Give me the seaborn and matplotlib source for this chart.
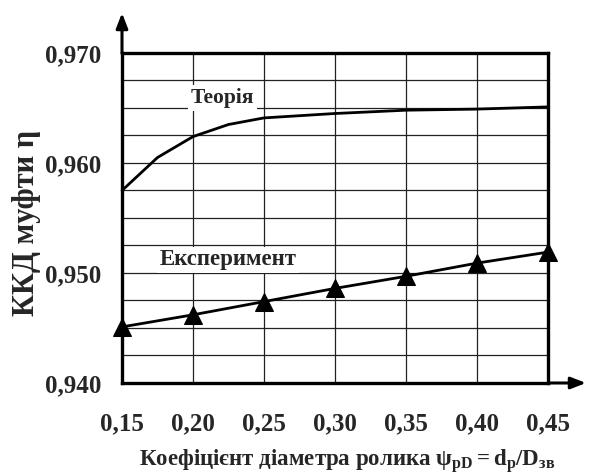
import matplotlib
matplotlib.use("Agg")
import matplotlib.pyplot as plt
import seaborn as sns
import pandas as pd
from matplotlib.ticker import MultipleLocator, FixedLocator

# Roller diameter coefficient and clutch efficiency
theory_x = [0.15, 0.175, 0.20, 0.225, 0.25, 0.30, 0.35, 0.40, 0.45]
theory_eta = [0.9575, 0.9605, 0.9624, 0.9635, 0.9641, 0.9645, 0.9648, 0.9649, 0.9651]

exp_x = [0.15, 0.20, 0.25, 0.30, 0.35, 0.40, 0.45]
exp_eta = [0.9451, 0.9462, 0.9474, 0.9486, 0.9497, 0.9509, 0.9519]

x_ticks = [0.15, 0.20, 0.25, 0.30, 0.35, 0.40, 0.45]
x_tick_labels = ["0,15", "0,20", "0,25", "0,30", "0,35", "0,40", "0,45"]
y_ticks = [0.940, 0.950, 0.960, 0.970]
y_tick_labels = ["0,940", "0,950", "0,960", "0,970"]

theory = pd.DataFrame({"x": theory_x, "eta": theory_eta})
experiment = pd.DataFrame({"x": exp_x, "eta": exp_eta})

sns.set_style("white")
plt.rcParams["font.family"] = ["Liberation Serif", "DejaVu Serif"]
plt.rcParams["font.weight"] = "bold"
plt.rcParams["mathtext.fontset"] = "custom"
plt.rcParams["mathtext.rm"] = "Liberation Serif:bold"
plt.rcParams["mathtext.it"] = "Liberation Serif:bold"
plt.rcParams["mathtext.bf"] = "Liberation Serif:bold"

fig = plt.figure(figsize=(5.89, 4.74), dpi=100)
ax = fig.add_axes([122 / 589, 1 - 383 / 474, 426 / 589, 330 / 474])

sns.lineplot(data=theory, x="x", y="eta", ax=ax, color="black", linewidth=2.0,
             zorder=4, clip_on=False)
sns.lineplot(data=experiment, x="x", y="eta", ax=ax, color="black", linewidth=2.0,
             marker="^", markersize=13, markeredgecolor="black", zorder=6,
             clip_on=False)

ax.set_xlim(0.15, 0.45)
ax.set_ylim(0.940, 0.970)
ax.xaxis.set_major_locator(FixedLocator(x_ticks))
ax.set_xticklabels(x_tick_labels)
ax.yaxis.set_major_locator(FixedLocator(y_ticks))
ax.set_yticklabels(y_tick_labels)
ax.yaxis.set_minor_locator(MultipleLocator(0.0025))

ax.grid(True, which="both", color="#222222", linewidth=0.9, zorder=1)
ax.set_axisbelow(True)
for s in ax.spines.values():
    s.set_linewidth(2.4)
    s.set_color("black")
    s.set_zorder(5)

ax.tick_params(axis="both", which="both", direction="out", color="#222222",
               width=0.9, labelsize=18)
ax.tick_params(axis="y", which="both", length=6, pad=9)
ax.tick_params(axis="x", which="major", length=5, pad=16)
for lab in ax.get_xticklabels() + ax.get_yticklabels():
    lab.set_fontweight("bold")

ax.set_xlabel(r"Коефіцієнт діаметра ролика $\mathregular{ψ_{pD}{=}d_{p}/D_{зв}}$",
              fontsize=16.5, fontweight="bold")
ax.xaxis.set_label_coords(0.528, -0.196)
ax.set_ylabel("ККД муфти η", fontsize=22, fontweight="bold")
ax.yaxis.set_label_coords(-0.19, 0.485)

# Curve captions on a white patch over the grid
box = dict(facecolor="white", edgecolor="none", pad=2)
ax.text(0.2205, 0.9659, "Теорія", ha="center", va="center", fontsize=15.5,
        fontweight="bold", bbox=box, zorder=3)
ax.text(0.2245, 0.9512, "Експеримент", ha="center", va="center", fontsize=16.5,
        fontweight="bold", bbox=box, zorder=3)

# Axis arrows
arrow = dict(arrowstyle="-|>,head_length=0.9,head_width=0.35", color="black",
             linewidth=2.2, shrinkA=0, shrinkB=0)
ax.annotate("", xy=(0, 1 + 40 / 330), xytext=(0, 1), xycoords="axes fraction",
            textcoords="axes fraction", arrowprops=arrow, annotation_clip=False)
ax.annotate("", xy=(1 + 38 / 426, 0), xytext=(1, 0), xycoords="axes fraction",
            textcoords="axes fraction", arrowprops=arrow, annotation_clip=False)

fig.savefig("out.png", dpi=100)
